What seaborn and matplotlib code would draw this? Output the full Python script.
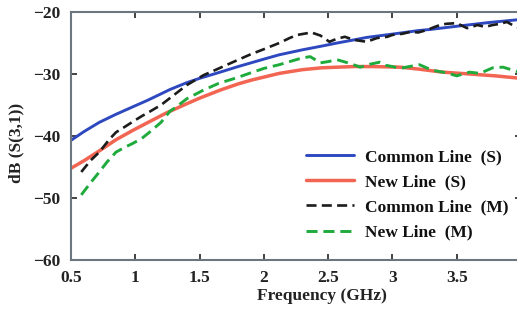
import numpy as np
import pandas as pd
import matplotlib
matplotlib.use("Agg")
import matplotlib.pyplot as plt
import seaborn as sns

# ---- data ----
freq_cs = [0.5, 0.6, 0.72, 0.85, 0.98, 1.1, 1.27, 1.4, 1.5, 1.66, 1.8, 2.0, 2.12, 2.3, 2.45, 2.57, 2.7, 2.8, 2.95, 3.06, 3.2, 3.3, 3.5, 3.75, 4.0]
db_cs = [-40.7, -39.3, -37.8, -36.5, -35.3, -34.2, -32.5, -31.4, -30.7, -29.7, -28.8, -27.6, -26.9, -26.1, -25.5, -25.0, -24.5, -24.1, -23.7, -23.4, -23.0, -22.8, -22.3, -21.7, -21.2]

freq_ns = [0.5, 0.6, 0.72, 0.85, 0.98, 1.1, 1.24, 1.4, 1.5, 1.66, 1.8, 1.9, 2.0, 2.12, 2.3, 2.45, 2.57, 2.7, 2.85, 3.06, 3.2, 3.39, 3.6, 3.8, 4.0]
db_ns = [-45.2, -44.0, -42.4, -40.6, -39.1, -37.8, -36.3, -34.8, -33.9, -32.6, -31.6, -31.0, -30.5, -29.9, -29.3, -29.0, -28.9, -28.8, -28.8, -28.9, -29.2, -29.7, -30.0, -30.3, -30.7]

freq_cm = [0.58, 0.65, 0.72, 0.8, 0.85, 0.92, 0.98, 1.05, 1.11, 1.2, 1.3, 1.4, 1.53, 1.65, 1.79, 1.9, 2.0, 2.12, 2.2, 2.26, 2.37,
           2.44, 2.51, 2.57, 2.63, 2.7, 2.8, 2.88, 2.96, 3.0, 3.08, 3.14, 3.2, 3.27, 3.33, 3.37, 3.42, 3.5, 3.55, 3.58,
           3.62, 3.66, 3.72, 3.78, 3.84, 3.89, 3.95, 4.0]
db_cm = [-45.8, -44.0, -42.6, -40.5, -39.4, -38.5, -37.7, -36.8, -36.1, -35.0, -33.4, -31.8, -30.2, -29.1, -27.8, -26.8, -26.0, -25.0, -24.2, -23.7, -23.3,
         -23.8, -24.8, -24.3, -24.0, -24.5, -24.8, -24.2, -24.0, -23.7, -23.5, -23.2, -23.3, -22.9, -22.4, -22.1, -21.9, -21.8, -22.3, -22.6,
         -22.4, -22.1, -22.4, -22.1, -21.9, -21.6, -22.3, -22.6]

freq_nm = [0.58, 0.65, 0.72, 0.78, 0.85, 0.92, 0.98, 1.05, 1.11, 1.2, 1.27, 1.32, 1.4, 1.53, 1.65, 1.79, 1.9, 2.0, 2.12, 2.2, 2.3, 2.36,
           2.44, 2.5, 2.57, 2.67, 2.75, 2.83, 2.9, 2.95, 3.0, 3.06, 3.13, 3.21, 3.31, 3.42, 3.5, 3.6, 3.68, 3.78, 3.86, 3.94, 4.0]
db_nm = [-49.5, -47.6, -45.8, -44.2, -42.6, -41.8, -41.2, -40.4, -39.4, -37.8, -36.0, -35.3, -34.0, -32.6, -31.5, -30.6, -29.8, -29.1, -28.5, -28.0, -27.4, -27.2,
         -28.2, -28.0, -27.7, -28.3, -28.9, -28.4, -28.1, -28.6, -28.8, -29.1, -28.8, -28.5, -29.4, -29.8, -30.3, -29.7, -29.9, -29.0, -28.9, -29.4, -29.8]

labels = ["Common Line  (S)", "New Line  (S)", "Common Line  (M)", "New Line  (M)"]
x_ticks = [0.5, 1, 1.5, 2, 2.5, 3, 3.5, 4]
x_ticklabels = ["0.5", "1", "1.5", "2", "2.5", "3", "3.5", "4"]
y_ticks = [-60, -50, -40, -30, -20]

# ---- style ----
sns.set_style("ticks")
plt.rcParams['font.family'] = ['Liberation Serif', 'DejaVu Serif']
plt.rcParams['font.weight'] = 'bold'

fig = plt.figure(figsize=(5.17, 3.10), dpi=100)
ax = fig.add_axes([71/517, 50/310, 450/517, 248/310])

DASH = (3.8, 2.0)
series = [
    (freq_cs, db_cs, labels[0], "#2e48c0", "-", 2.1),
    (freq_ns, db_ns, labels[1], "#f26552", "-", 2.5),
    (freq_cm, db_cm, labels[2], "#1c1c1c", "--", 1.9),
    (freq_nm, db_nm, labels[3], "#1faa3c", "--", 2.1),
]
for fx, fy, lab, col, ls, lw in series:
    df = pd.DataFrame({"f": fx, "db": fy})
    sns.lineplot(data=df, x="f", y="db", ax=ax, color=col, linewidth=lw, label=lab, sort=False)
for ln, s in zip(ax.get_lines(), series):
    if s[4] == "--":
        ln.set_dashes(DASH)

ax.set_xlim(0.5, 4)
ax.set_ylim(-60, -20)
ax.set_xticks(x_ticks)
ax.set_xticklabels(x_ticklabels)
ax.set_yticks(y_ticks)
ax.tick_params(direction="in", top=True, right=True, length=4, width=1.2,
               labelsize=12.5, colors="#222222", pad=7)
ax.tick_params(axis="y", pad=8)
for s in ax.spines.values():
    s.set_visible(True)
    s.set_color("#6c7680")
    s.set_linewidth(1.5)

ax.set_xlabel("Frequency (GHz)", fontsize=12.5, fontweight="bold", color="#222222")
ax.set_ylabel("dB (S(3,1))", fontsize=12.5, fontweight="bold", color="#222222")
ax.xaxis.set_label_coords((322-71)/450, -28/248)
ax.yaxis.set_label_coords(-47/450, (260-143)/248)

handles, labs = ax.get_legend_handles_labels()
for h, s in zip(handles, series):
    if s[4] == "--":
        h.set_dashes(DASH)
if ax.get_legend():
    ax.get_legend().remove()
leg = fig.legend(handles, labs, loc="upper left", bbox_to_anchor=(306/517, 1 - 149/310),
                 frameon=False, fontsize=12.5, handlelength=2.75, handletextpad=0.65,
                 labelspacing=0.52, borderpad=0, borderaxespad=0)
for t in leg.get_texts():
    t.set_color("#111111")
    t.set_fontweight("bold")

fig.savefig("out.png", dpi=100)
